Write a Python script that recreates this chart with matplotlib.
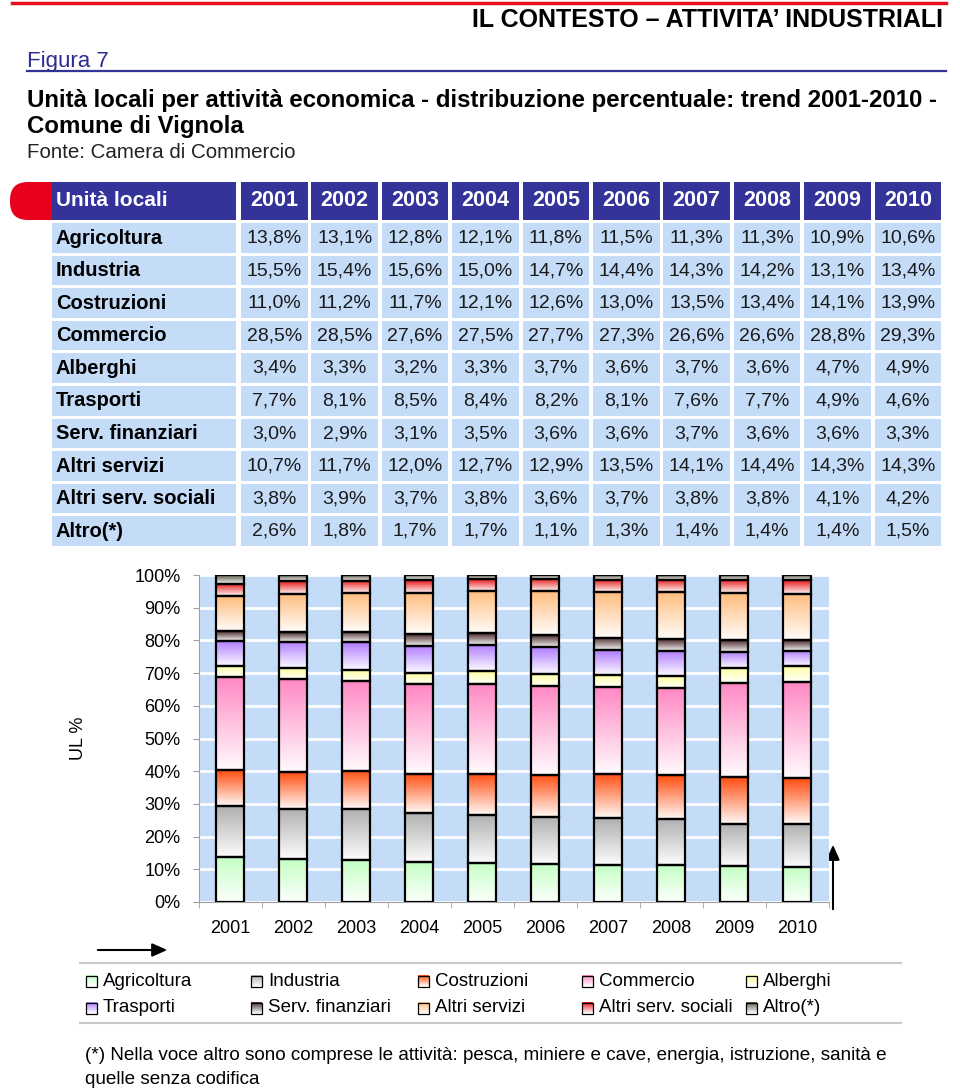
import numpy as np
import matplotlib
matplotlib.use('Agg')
import matplotlib.pyplot as plt
from matplotlib import font_manager
from matplotlib.colors import to_rgb
from matplotlib.patches import Rectangle, FancyBboxPatch

years = ['2001', '2002', '2003', '2004', '2005', '2006', '2007', '2008', '2009', '2010']
sectors = ['Agricoltura', 'Industria', 'Costruzioni', 'Commercio', 'Alberghi',
           'Trasporti', 'Serv. finanziari', 'Altri servizi', 'Altri serv. sociali', 'Altro(*)']

agricoltura = [13.8, 13.1, 12.8, 12.1, 11.8, 11.5, 11.3, 11.3, 10.9, 10.6]
industria = [15.5, 15.4, 15.6, 15.0, 14.7, 14.4, 14.3, 14.2, 13.1, 13.4]
costruzioni = [11.0, 11.2, 11.7, 12.1, 12.6, 13.0, 13.5, 13.4, 14.1, 13.9]
commercio = [28.5, 28.5, 27.6, 27.5, 27.7, 27.3, 26.6, 26.6, 28.8, 29.3]
alberghi = [3.4, 3.3, 3.2, 3.3, 3.7, 3.6, 3.7, 3.6, 4.7, 4.9]
trasporti = [7.7, 8.1, 8.5, 8.4, 8.2, 8.1, 7.6, 7.7, 4.9, 4.6]
serv_finanziari = [3.0, 2.9, 3.1, 3.5, 3.6, 3.6, 3.7, 3.6, 3.6, 3.3]
altri_servizi = [10.7, 11.7, 12.0, 12.7, 12.9, 13.5, 14.1, 14.4, 14.3, 14.3]
altri_sociali = [3.8, 3.9, 3.7, 3.8, 3.6, 3.7, 3.8, 3.8, 4.1, 4.2]
altro = [2.6, 1.8, 1.7, 1.7, 1.1, 1.3, 1.4, 1.4, 1.4, 1.5]

series = [agricoltura, industria, costruzioni, commercio, alberghi,
          trasporti, serv_finanziari, altri_servizi, altri_sociali, altro]
colors = ['#c4ffc4', '#b0b0b0', '#ff4e10', '#ff88c4', '#ffffa0',
          '#b07cff', '#4a2a2a', '#ffbc7c', '#e81818', '#5c5c4c']

names = {f.name for f in font_manager.fontManager.ttflist}
base = 'Liberation Sans' if 'Liberation Sans' in names else 'DejaVu Sans'
plt.rcParams['font.family'] = base

W, H = 960, 1091
fig = plt.figure(figsize=(W / 100, H / 100), dpi=100)
bg = fig.add_axes([0, 0, 1, 1])
bg.set_xlim(0, W)
bg.set_ylim(H, 0)
bg.axis('off')


def gradient(ax, x0, x1, ybot, ytop, color, z=2):
    c = np.array(to_rgb(color))
    t = np.linspace(0, 0.96, 64)[:, None]
    img = (c * (1 - t) + t)[:, None, :]
    ax.imshow(img, extent=(x0, x1, ybot, ytop), origin='upper', aspect='auto',
              interpolation='bilinear', zorder=z)


# header
bg.plot([12, 946], [3, 3], color='#e8101c', lw=2.5)
bg.text(943, 20, 'IL CONTESTO – ATTIVITA’ INDUSTRIALI', ha='right', va='center',
        fontsize=18, fontweight='bold')
bg.text(27, 61, 'Figura 7', ha='left', va='center', fontsize=16, color='#2d2d8f')
bg.plot([27, 946], [71, 71], color='#333399', lw=1.6)
bg.text(27, 101, 'Unità locali per attività economica - distribuzione percentuale: trend 2001-2010 -',
        ha='left', va='center', fontsize=17.3, fontweight='bold')
bg.text(27, 127, 'Comune di Vignola', ha='left', va='center', fontsize=17.3, fontweight='bold')
bg.text(27, 153, 'Fonte: Camera di Commercio', ha='left', va='center', fontsize=14.8,
        color='#222222')

# table
cell_blue = '#c4dcf8'
head_blue = '#333399'
bg.add_patch(FancyBboxPatch((10, 182), 60, 38, boxstyle='round,pad=0,rounding_size=18',
                            fc='#e8001c', ec='none'))
col_left = [241 + j * 70.4 for j in range(len(years))]
col_w = 66.5
bg.add_patch(Rectangle((52, 182), 184, 38, fc=head_blue, ec='none', zorder=2))
bg.text(56, 201, 'Unità locali', ha='left', va='center', fontsize=15, fontweight='bold',
        color='white', zorder=3)
for j, yr in enumerate(years):
    bg.add_patch(Rectangle((col_left[j], 182), col_w, 38, fc=head_blue, ec='none', zorder=2))
    bg.text(col_left[j] + col_w / 2, 201, yr, ha='center', va='center', fontsize=15.5,
            fontweight='bold', color='white', zorder=3)
for i, name in enumerate(sectors):
    top = 223 + i * 32.6
    bg.add_patch(Rectangle((52, top), 184, 29.5, fc=cell_blue, ec='none', zorder=2))
    bg.text(56, top + 15, name, ha='left', va='center', fontsize=14.5, fontweight='bold', zorder=3)
    for j in range(len(years)):
        bg.add_patch(Rectangle((col_left[j], top), col_w, 29.5, fc=cell_blue, ec='none', zorder=2))
        val = ('%.1f%%' % series[i][j]).replace('.', ',')
        bg.text(col_left[j] + col_w / 2, top + 15, val, ha='center', va='center',
                fontsize=14, zorder=3, color='#1a1a1a')

# chart
ax = fig.add_axes([198.5 / W, 1 - 902 / H, 630 / W, 327 / H])
ax.set_facecolor(cell_blue)
x = np.arange(len(years))
bottom = np.zeros(len(years))
for vals, col in zip(series, colors):
    bars = ax.bar(x, vals, bottom=bottom, width=0.43, facecolor='none',
                  edgecolor='black', lw=1.6, zorder=3)
    for p in bars.patches:
        gradient(ax, p.get_x(), p.get_x() + p.get_width(), p.get_y(),
                 p.get_y() + p.get_height(), col)
    bottom += np.array(vals)
ax.set_xlim(-0.5, len(years) - 0.5)
ax.set_ylim(0, 100)
ax.set_yticks(range(0, 101, 10))
ax.set_yticklabels(['%d%%' % v for v in range(0, 101, 10)])
ax.set_xticks(x)
ax.set_xticklabels(years)
ax.set_xticks(np.arange(-0.5, len(years), 1), minor=True)
ax.tick_params(axis='x', which='major', length=0, pad=13, labelsize=13)
ax.tick_params(axis='x', which='minor', length=4, color='#a0a0a0', direction='out')
ax.tick_params(axis='y', length=4, color='#a0a0a0', pad=9, labelsize=13)
ax.yaxis.grid(True, color='white', lw=2)
ax.set_axisbelow(True)
for s in ['top', 'right']:
    ax.spines[s].set_visible(False)
for s in ['left', 'bottom']:
    ax.spines[s].set_color('#a0a0a0')
ax.set_ylabel('UL %', fontsize=13, labelpad=34)

# arrows
bg.annotate('', xy=(170, 950), xytext=(95, 950),
            arrowprops=dict(arrowstyle='-|>,head_width=0.4,head_length=0.9', color='black', lw=1.5))
bg.annotate('', xy=(833, 842), xytext=(833, 912),
            arrowprops=dict(arrowstyle='-|>,head_width=0.4,head_length=0.9', color='black', lw=1.5))

# legend
bg.plot([80, 901], [963, 963], color='#c8c8c8', lw=1.5)
bg.plot([80, 901], [1023, 1023], color='#c8c8c8', lw=1.5)
leg_x = [86, 251, 418, 582, 746]
for k, (name, col) in enumerate(zip(sectors, colors)):
    lx = leg_x[k % 5]
    ly = 981 if k < 5 else 1008
    gradient(bg, lx, lx + 11, ly + 5.5, ly - 5.5, col, z=3)
    bg.add_patch(Rectangle((lx, ly - 5.5), 11, 11, fc='none', ec='black', lw=0.9, zorder=4))
    bg.text(lx + 17, ly, name, ha='left', va='center', fontsize=13.5)
bg.set_xlim(0, W)
bg.set_ylim(H, 0)

# footnote
bg.text(85, 1056, '(*) Nella voce altro sono comprese le attività: pesca, miniere e cave, energia, '
        'istruzione, sanità e', ha='left', va='center', fontsize=13.6)
bg.text(85, 1079, 'quelle senza codifica', ha='left', va='center', fontsize=13.6)

fig.savefig('out.png', dpi=100)
